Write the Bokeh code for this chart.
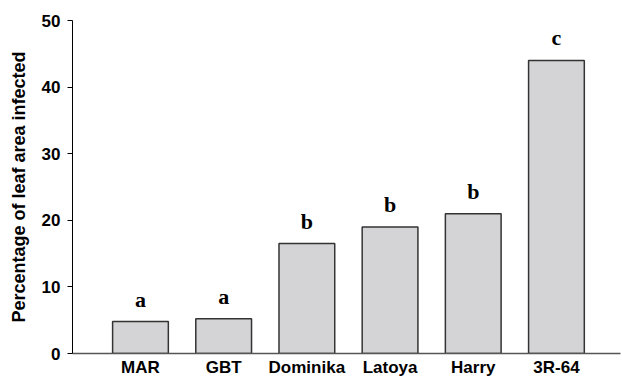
from bokeh.plotting import figure
from bokeh.models import ColumnDataSource, FixedTicker, Range1d
from bokeh.core.properties import value
from bokeh.embed import file_html
from bokeh.resources import INLINE

cultivars = ["MAR", "GBT", "Dominika", "Latoya", "Harry", "3R-64"]
infected = [4.8, 5.2, 16.5, 19.0, 21.0, 44.0]
groups = ["a", "a", "b", "b", "b", "c"]
positions = [1, 2, 3, 4, 5, 6]

src = ColumnDataSource(dict(x=positions, top=infected, lab=groups))

p = figure(width=622, height=379, output_backend="svg", toolbar_location=None,
           x_range=Range1d(0.183, 6.77), y_range=Range1d(0, 50),
           min_border_left=72, min_border_top=20, min_border_right=2, min_border_bottom=16)
p.grid.visible = False
p.outline_line_color = None
p.background_fill_color = "white"

p.vbar(x="x", top="top", width=0.67, bottom=0, source=src,
       fill_color="#d4d4d6", line_color="#333333", line_width=1.5)
p.text(x="x", y="top", text="lab", source=src, text_align="center",
       text_baseline="bottom", y_offset=-10,
       text_font=value("Liberation Serif"), text_font_style="bold",
       text_font_size="22px", text_color="black")

ya = p.yaxis[0]
ya.ticker = FixedTicker(ticks=[0, 10, 20, 30, 40, 50])
ya.minor_tick_line_color = None
ya.major_tick_out = 5
ya.major_tick_in = 0
ya.axis_line_color = "black"
ya.major_tick_line_color = "black"
ya.major_label_text_font = "Liberation Sans"
ya.major_label_text_font_style = "bold"
ya.major_label_text_font_size = "17px"
ya.major_label_text_color = "black"
ya.major_label_standoff = 7
ya.axis_label = "Percentage of leaf area infected"
ya.axis_label_text_font = "Liberation Sans"
ya.axis_label_text_font_style = "bold"
ya.axis_label_text_font_size = "18px"
ya.axis_label_text_color = "black"
ya.axis_label_standoff = 10

xa = p.xaxis[0]
xa.ticker = FixedTicker(ticks=positions)
xa.major_label_overrides = {pos: name for pos, name in zip(positions, cultivars)}
xa.major_tick_line_color = None
xa.major_tick_out = 0
xa.major_tick_in = 0
xa.minor_tick_line_color = None
xa.axis_line_color = "#555555"
xa.axis_line_width = 1.5
xa.major_label_text_font = "Liberation Sans"
xa.major_label_text_font_style = "bold"
xa.major_label_text_font_size = "17px"
xa.major_label_text_color = "black"
xa.major_label_standoff = 4

open("out.html", "w").write(file_html(p, INLINE))
